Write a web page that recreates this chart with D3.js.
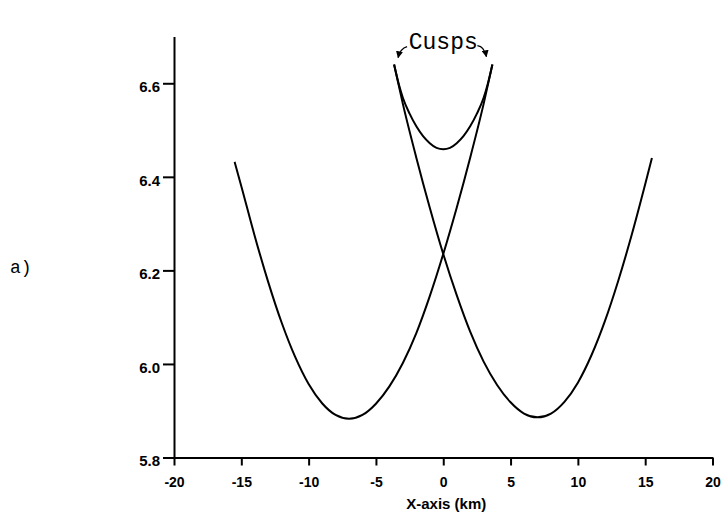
<!DOCTYPE html>
<html>
<head>
<meta charset="utf-8">
<script src="https://cdn.jsdelivr.net/npm/d3@7"></script>
<style>
  html, body { margin: 0; padding: 0; background: #fff; }
  svg { display: block; }
  .axis text { font-family: "Liberation Sans", Arial, sans-serif; font-weight: bold; fill: #000; }
  .axis path, .axis line { stroke: #000; stroke-width: 2; }
</style>
</head>
<body>
<svg id="chart" width="725" height="522"></svg>
<script>
// Travel-time branches, X in km, time in s
const leftBranch = [
  [-15.5, 6.432], [-15, 6.380], [-14, 6.273], [-13, 6.175], [-12, 6.088],
  [-11, 6.015], [-10, 5.957], [-9, 5.916], [-8, 5.891], [-7, 5.883],
  [-6, 5.891], [-5, 5.915], [-4, 5.952], [-3, 6.002], [-2, 6.066],
  [-1, 6.145], [0, 6.235], [1, 6.334], [2, 6.441], [3, 6.556], [3.65, 6.640]
];
const rightBranch = [
  [-3.65, 6.640], [-3, 6.556], [-2, 6.441], [-1, 6.334], [0, 6.235],
  [1, 6.147], [2, 6.069], [3, 6.005], [4, 5.955], [5, 5.918],
  [6, 5.894], [7, 5.886], [8, 5.894], [9, 5.919], [10, 5.960],
  [11, 6.018], [12, 6.091], [13, 6.178], [14, 6.276], [15, 6.384], [15.5, 6.440]
];
const capBranch = [
  [-3.65, 6.640], [-3.3, 6.598], [-3, 6.569], [-2.5, 6.535], [-2, 6.508],
  [-1.5, 6.487], [-1, 6.472], [-0.5, 6.462], [0, 6.459], [0.5, 6.462],
  [1, 6.472], [1.5, 6.487], [2, 6.508], [2.5, 6.535], [3, 6.569],
  [3.3, 6.598], [3.65, 6.640]
];
const cusps = [[-3.65, 6.640], [3.65, 6.640]];
const xTicks = [-20, -15, -10, -5, 0, 5, 10, 15, 20];
const yTicks = [5.8, 6.0, 6.2, 6.4, 6.6];
const xTitle = "X-axis (km)";
const panelLabel = "a)";
const cuspLabel = "Cusps";

const svg = d3.select("#chart");
const x = d3.scaleLinear().domain([-20, 20]).range([174, 712.5]);
const y = d3.scaleLinear().domain([5.8, 6.7]).range([457.5, 36.5]);

// axes
svg.append("g")
  .attr("class", "axis")
  .attr("transform", `translate(0,${y(5.8)})`)
  .call(d3.axisBottom(x).tickValues(xTicks).tickSize(8).tickSizeOuter(0).tickPadding(12)
    .tickFormat(d => d))
  .call(g => g.selectAll("text").attr("font-size", 14));

svg.append("g")
  .attr("class", "axis")
  .attr("transform", `translate(${x(-20)},0)`)
  .call(d3.axisLeft(y).tickValues(yTicks).tickSize(11).tickSizeOuter(0).tickPadding(3)
    .tickFormat(d3.format(".1f")))
  .call(g => g.selectAll("text").attr("font-size", 15).attr("dy", "0.55em"));

svg.append("text")
  .attr("x", x(0) + 3).attr("y", 509)
  .attr("text-anchor", "middle")
  .attr("font-family", "Liberation Sans, Arial, sans-serif")
  .attr("font-weight", "bold")
  .attr("font-size", 15)
  .text(xTitle);

// curves
const line = d3.line()
  .x(d => x(d[0])).y(d => y(d[1]))
  .curve(d3.curveMonotoneX);

svg.selectAll("path.branch")
  .data([leftBranch, rightBranch, capBranch])
  .join("path")
  .attr("class", "branch")
  .attr("d", line)
  .attr("fill", "none")
  .attr("stroke", "#000")
  .attr("stroke-width", 2)
  .attr("stroke-linejoin", "round");

// panel label
svg.append("text")
  .attr("x", 10).attr("y", 273)
  .attr("font-family", "Liberation Mono, Courier New, monospace")
  .attr("font-size", 18)
  .text(panelLabel);

// cusp annotation
svg.append("defs").append("marker")
  .attr("id", "head")
  .attr("viewBox", "0 0 10 10")
  .attr("refX", 9).attr("refY", 5)
  .attr("markerWidth", 7).attr("markerHeight", 7)
  .attr("markerUnits", "userSpaceOnUse")
  .attr("orient", "auto")
  .append("path")
  .attr("d", "M0,0L10,5L0,10Z")
  .attr("fill", "#000");

svg.append("text")
  .attr("x", x(0)).attr("y", 49)
  .attr("text-anchor", "middle")
  .attr("font-family", "Liberation Mono, Courier New, monospace")
  .attr("font-size", 23)
  .text(cuspLabel);

const arrowOffsets = [
  { from: [13, -18], ctrl: [6, -16], to: [4, -7] },
  { from: [-15, -19], ctrl: [-8, -18], to: [-6, -8] }
];
svg.selectAll("path.arrow")
  .data(cusps)
  .join("path")
  .attr("class", "arrow")
  .attr("d", (d, i) => {
    const cx = x(d[0]), cy = y(d[1]), o = arrowOffsets[i];
    return `M${cx + o.from[0]},${cy + o.from[1]}Q${cx + o.ctrl[0]},${cy + o.ctrl[1]} ${cx + o.to[0]},${cy + o.to[1]}`;
  })
  .attr("fill", "none")
  .attr("stroke", "#000")
  .attr("stroke-width", 1.3)
  .attr("marker-end", "url(#head)");
</script>
</body>
</html>
